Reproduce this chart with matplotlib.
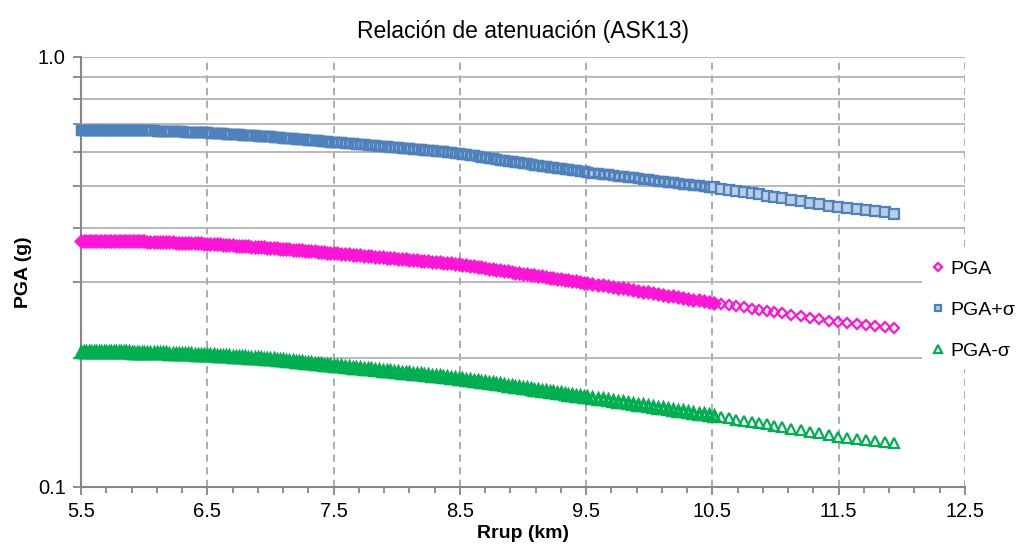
import numpy as np
import matplotlib.pyplot as plt
from matplotlib.ticker import FixedLocator, NullFormatter

# Rrup (km) (los puntos se separan hacia el final)
rrup = ([5.50, 5.52, 5.54, 5.56, 5.58, 5.60, 5.62, 5.64, 5.66, 5.68, 5.70, 5.72, 5.74,
         5.76, 5.78, 5.80, 5.82, 5.84, 5.86, 5.88, 5.90, 5.92, 5.94, 5.96, 5.98, 6.00] +
        [6.025, 6.050, 6.075, 6.100, 6.125, 6.150, 6.175, 6.200, 6.225, 6.250, 6.275, 6.300,
         6.325, 6.350, 6.375, 6.400, 6.425, 6.450, 6.475, 6.500, 6.525, 6.550, 6.575, 6.600,
         6.625, 6.650, 6.675, 6.700, 6.725, 6.750, 6.775, 6.800, 6.825, 6.850, 6.875, 6.900,
         6.925, 6.950, 6.975, 7.000, 7.025, 7.050, 7.075, 7.100, 7.125, 7.150, 7.175, 7.200,
         7.225, 7.250, 7.275, 7.300, 7.325, 7.350, 7.375, 7.400, 7.425, 7.450, 7.475, 7.500] +
        [7.53, 7.56, 7.59, 7.62, 7.65, 7.68, 7.71, 7.74, 7.77, 7.80, 7.83, 7.86, 7.89, 7.92,
         7.95, 7.98, 8.01, 8.04, 8.07, 8.10, 8.13, 8.16, 8.19, 8.22, 8.25, 8.28, 8.31, 8.34,
         8.37, 8.40, 8.43, 8.46, 8.49, 8.52, 8.55, 8.58, 8.61, 8.64, 8.67, 8.70, 8.73, 8.76,
         8.79, 8.82, 8.85, 8.88, 8.91, 8.94, 8.97, 9.00, 9.03, 9.06, 9.09, 9.12, 9.15, 9.18,
         9.21, 9.24, 9.27, 9.30, 9.33, 9.36, 9.39, 9.42, 9.45, 9.48, 9.51] +
        [9.55, 9.59, 9.63, 9.67, 9.71, 9.75, 9.79, 9.83, 9.87, 9.91, 9.95, 9.99, 10.03,
         10.07, 10.11, 10.15, 10.19, 10.23, 10.27, 10.31, 10.35, 10.39, 10.43, 10.47, 10.51] +
        [10.57, 10.63, 10.69, 10.75, 10.81, 10.87, 10.93, 10.99, 11.05,
         11.124, 11.198, 11.272, 11.346, 11.420, 11.494, 11.568, 11.642, 11.716, 11.790,
         11.864, 11.938])

# PGA (g)
pga = ([0.3730] * 20 + [0.3729, 0.3728, 0.3727, 0.3726, 0.3726, 0.3725] +
       [0.3723, 0.3720, 0.3718, 0.3716, 0.3714, 0.3711, 0.3709, 0.3707, 0.3705, 0.3702,
        0.3700, 0.3698, 0.3696, 0.3693, 0.3691, 0.3689, 0.3687, 0.3684, 0.3682, 0.3680,
        0.3676, 0.3672, 0.3668, 0.3664, 0.3660, 0.3656, 0.3652, 0.3648, 0.3644, 0.3640,
        0.3636, 0.3632, 0.3628, 0.3624, 0.3620, 0.3616, 0.3612, 0.3608, 0.3604, 0.3600,
        0.3595, 0.3590, 0.3585, 0.3580, 0.3575, 0.3570, 0.3565, 0.3560, 0.3555, 0.3550,
        0.3545, 0.3540, 0.3535, 0.3530, 0.3525, 0.3520, 0.3515, 0.3510, 0.3505, 0.3500] +
       [0.3494, 0.3488, 0.3482, 0.3476, 0.3470, 0.3464, 0.3458, 0.3452, 0.3446, 0.3440,
        0.3434, 0.3428, 0.3422, 0.3416, 0.3410, 0.3404, 0.3398, 0.3392, 0.3386, 0.3380,
        0.3374, 0.3368, 0.3362, 0.3356, 0.3350, 0.3344, 0.3338, 0.3332, 0.3326, 0.3320,
        0.3312, 0.3303, 0.3295, 0.3287, 0.3279, 0.3270, 0.3262, 0.3252, 0.3242, 0.3232,
        0.3222, 0.3212, 0.3202, 0.3192, 0.3182, 0.3172, 0.3162, 0.3152, 0.3142, 0.3132,
        0.3123, 0.3114, 0.3105, 0.3096, 0.3087, 0.3078, 0.3069, 0.3060, 0.3051, 0.3042,
        0.3033, 0.3024, 0.3015, 0.3006, 0.2997, 0.2988, 0.2979] +
       [0.2967, 0.2955, 0.2943, 0.2931, 0.2919, 0.2907, 0.2895, 0.2883, 0.2871, 0.2859,
        0.2847, 0.2835, 0.2823, 0.2811, 0.2799, 0.2787, 0.2775, 0.2763, 0.2751, 0.2739,
        0.2727, 0.2715, 0.2703, 0.2691, 0.2679] +
       [0.2663, 0.2647, 0.2631, 0.2615, 0.2600, 0.2584, 0.2568, 0.2552, 0.2536,
        0.2516, 0.2497, 0.2477, 0.2458, 0.2438, 0.2418, 0.2405, 0.2392, 0.2379, 0.2365,
        0.2352, 0.2338])

# PGA + sigma
pga_mas = ([0.6770] * 16 + [0.6769, 0.6768, 0.6767, 0.6766, 0.6765, 0.6764, 0.6763, 0.6762,
                            0.6761, 0.6760] +
           [0.6756, 0.6752, 0.6748, 0.6744, 0.6740, 0.6736, 0.6732, 0.6728, 0.6724, 0.6720,
            0.6716, 0.6712, 0.6708, 0.6704, 0.6700, 0.6696, 0.6692, 0.6688, 0.6684, 0.6680,
            0.6673, 0.6665, 0.6658, 0.6651, 0.6643, 0.6636, 0.6629, 0.6622, 0.6614, 0.6607,
            0.6600, 0.6592, 0.6585, 0.6578, 0.6570, 0.6563, 0.6556, 0.6549, 0.6541, 0.6534,
            0.6525, 0.6516, 0.6506, 0.6497, 0.6488, 0.6479, 0.6470, 0.6460, 0.6451, 0.6442,
            0.6433, 0.6424, 0.6414, 0.6405, 0.6396, 0.6387, 0.6378, 0.6368, 0.6359, 0.6350] +
           [0.6339, 0.6328, 0.6317, 0.6306, 0.6295, 0.6284, 0.6273, 0.6262, 0.6251, 0.6240,
            0.6229, 0.6218, 0.6207, 0.6196, 0.6185, 0.6174, 0.6163, 0.6152, 0.6141, 0.6130,
            0.6119, 0.6108, 0.6097, 0.6086, 0.6075, 0.6064, 0.6053, 0.6042, 0.6031, 0.6020,
            0.6004, 0.5987, 0.5971, 0.5954, 0.5938, 0.5921, 0.5902, 0.5884, 0.5866, 0.5848,
            0.5830, 0.5812, 0.5794, 0.5776, 0.5758, 0.5740, 0.5722, 0.5704, 0.5686, 0.5670,
            0.5654, 0.5639, 0.5623, 0.5608, 0.5592, 0.5576, 0.5561, 0.5545, 0.5530, 0.5514,
            0.5498, 0.5483, 0.5467, 0.5452, 0.5436, 0.5420, 0.5405] +
           [0.5387, 0.5370, 0.5352, 0.5335, 0.5317, 0.5299, 0.5282, 0.5264, 0.5247, 0.5229,
            0.5211, 0.5194, 0.5177, 0.5160, 0.5144, 0.5127, 0.5110, 0.5093, 0.5076, 0.5060,
            0.5043, 0.5026, 0.5009, 0.4992, 0.4976] +
           [0.4945, 0.4914, 0.4882, 0.4851, 0.4820, 0.4789, 0.4758, 0.4726, 0.4695,
            0.4658, 0.4621, 0.4584, 0.4547, 0.4510, 0.4473, 0.4450, 0.4425, 0.4400, 0.4375,
            0.4350, 0.4325])

# PGA - sigma
pga_menos = ([0.2055] * 20 + [0.2054, 0.2054, 0.2053, 0.2053, 0.2052, 0.2052] +
             [0.2051, 0.2050, 0.2048, 0.2047, 0.2046, 0.2045, 0.2044, 0.2042, 0.2041, 0.2040,
              0.2039, 0.2038, 0.2036, 0.2035, 0.2034, 0.2033, 0.2032, 0.2030, 0.2029, 0.2028,
              0.2026, 0.2024, 0.2021, 0.2019, 0.2017, 0.2015, 0.2013, 0.2010, 0.2008, 0.2006,
              0.2004, 0.2002, 0.1999, 0.1997, 0.1995, 0.1993, 0.1991, 0.1988, 0.1986, 0.1984,
              0.1981, 0.1977, 0.1974, 0.1970, 0.1967, 0.1963, 0.1960, 0.1957, 0.1953, 0.1950,
              0.1946, 0.1943, 0.1939, 0.1936, 0.1932, 0.1929, 0.1926, 0.1922, 0.1919, 0.1915] +
             [0.1911, 0.1907, 0.1904, 0.1900, 0.1896, 0.1892, 0.1888, 0.1884, 0.1881, 0.1877,
              0.1873, 0.1869, 0.1865, 0.1861, 0.1858, 0.1854, 0.1850, 0.1846, 0.1842, 0.1838,
              0.1835, 0.1831, 0.1827, 0.1823, 0.1819, 0.1815, 0.1812, 0.1808, 0.1804, 0.1800,
              0.1796, 0.1791, 0.1787, 0.1782, 0.1778, 0.1773, 0.1768, 0.1763, 0.1758, 0.1753,
              0.1747, 0.1742, 0.1737, 0.1732, 0.1726, 0.1721, 0.1716, 0.1711, 0.1705, 0.1700,
              0.1695, 0.1690, 0.1685, 0.1680, 0.1675, 0.1670, 0.1666, 0.1661, 0.1656, 0.1651,
              0.1646, 0.1641, 0.1636, 0.1631, 0.1626, 0.1621, 0.1616] +
             [0.1610, 0.1604, 0.1598, 0.1592, 0.1585, 0.1579, 0.1573, 0.1567, 0.1561, 0.1555,
              0.1549, 0.1543, 0.1537, 0.1530, 0.1524, 0.1518, 0.1512, 0.1506, 0.1500, 0.1494,
              0.1488, 0.1482, 0.1475, 0.1469, 0.1463] +
             [0.1454, 0.1444, 0.1435, 0.1426, 0.1416, 0.1407, 0.1398, 0.1388, 0.1379,
              0.1367, 0.1356, 0.1344, 0.1333, 0.1321, 0.1310, 0.1303, 0.1295, 0.1288, 0.1281,
              0.1273, 0.1266])

x_ticks = [5.5, 6.5, 7.5, 8.5, 9.5, 10.5, 11.5, 12.5]
x_labels = ['5.5', '6.5', '7.5', '8.5', '9.5', '10.5', '11.5', '12.5']

plt.rcParams['font.family'] = ['Liberation Sans', 'DejaVu Sans']

x = np.array(rrup)
denso = x < 10.55     # zona donde los marcadores se enciman (en el original es una banda)
suelto = x >= 10.5

# (label, datos, marcador, tam. suelto, tam. denso, relleno, borde)
series = [
    ('PGA+σ', np.array(pga_mas), 's', 6.8, 6.2, '#B9CDE5', '#4F81BD'),
    ('PGA', np.array(pga), 'D', 5.6, 5.2, 'none', '#FF14D8'),
    ('PGA-σ', np.array(pga_menos), '^', 7.6, 6.8, 'none', '#00B050'),
]

gris = '#868686'
fig = plt.figure(figsize=(10.18, 5.57), dpi=100)
ax = fig.add_axes([81/1018, 70/557, 884/1018, 430/557])

handles = {}
for nombre, y, mk, ms, ms_d, cara, borde in series:
    ax.plot(x[denso], y[denso], mk, markersize=ms_d, markerfacecolor=cara,
            markeredgecolor=borde, markeredgewidth=2.5, clip_on=False, zorder=3)
    ln, = ax.plot(x[suelto], y[suelto], mk, markersize=ms, markerfacecolor=cara,
                  markeredgecolor=borde, markeredgewidth=1.6, clip_on=False, zorder=3)
    handles[nombre] = ln

ax.set_yscale('log')
ax.set_ylim(0.1, 1.0)
ax.set_xlim(5.5, 12.5)

# ejes y rejilla
ax.set_xticks(x_ticks)
ax.set_xticklabels(x_labels)
ax.xaxis.set_minor_locator(FixedLocator([5.5 + 0.2 * i for i in range(36)]))
ax.set_yticks([0.1, 1.0])
ax.set_yticklabels(['0.1', '1.0'])
ax.yaxis.set_minor_locator(FixedLocator([0.2, 0.3, 0.4, 0.5, 0.6, 0.7, 0.8, 0.9]))
ax.yaxis.set_minor_formatter(NullFormatter())

ax.tick_params(axis='both', which='major', direction='out', length=6, width=1.3, color=gris,
               labelsize=14.5, pad=5)
ax.tick_params(axis='x', which='minor', direction='out', length=4, width=1.3, color=gris)
ax.tick_params(axis='y', which='minor', direction='out', length=6, width=1.3, color=gris)

ax.grid(True, axis='y', which='both', color='#B3B3B3', linewidth=1.3, linestyle='-')
ax.grid(True, axis='x', which='major', color='#A6A6A6', linewidth=1.3, linestyle=(0, (4, 3)))
ax.set_axisbelow(True)

for lado in ['top', 'right']:
    ax.spines[lado].set_visible(False)
for lado in ['left', 'bottom']:
    ax.spines[lado].set_color(gris)
    ax.spines[lado].set_linewidth(1.5)

ax.set_title('Relación de atenuación (ASK13)', fontsize=16.5, pad=14)
ax.set_xlabel('Rrup (km)', fontsize=14, fontweight='bold', labelpad=3)
ax.set_ylabel('PGA (g)', fontsize=14, fontweight='bold', labelpad=4)

orden = ['PGA', 'PGA+σ', 'PGA-σ']
leg = fig.legend([handles[n] for n in orden], orden, loc='center left',
                 bbox_to_anchor=(912/1018, 1 - 310/557), fontsize=14, frameon=True,
                 facecolor='white', edgecolor='none', framealpha=1, fancybox=False,
                 handlelength=0.7, handletextpad=0.25, labelspacing=1.2, borderpad=0.5,
                 markerscale=0.7)

fig.savefig('out.png', dpi=100)
